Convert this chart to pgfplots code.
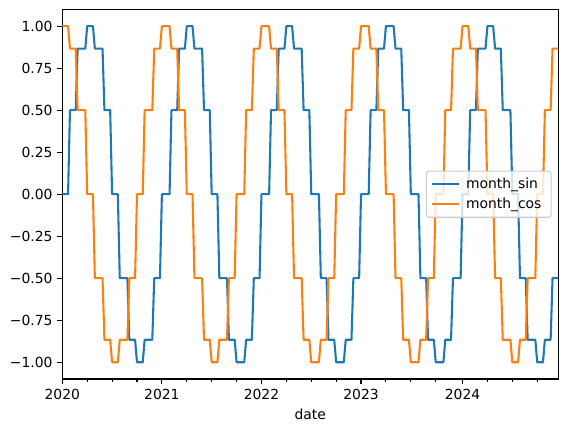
\documentclass[border=0pt]{standalone}
\usepackage{fontspec}
\setmainfont{DejaVu Sans}
\usepackage{pgfplots}
\usepackage{pgfplotstable}
\pgfplotsset{compat=1.18}
\definecolor{c0}{HTML}{1F77B4}
\definecolor{c1}{HTML}{FF7F0E}
\definecolor{legedge}{HTML}{CCCCCC}
% week index k (weekly periods, first week = 2020-01-05), month_sin, month_cos
\pgfplotstableread{
k s c
0 0 1
3 0 1
4 0.5 0.866025
7 0.5 0.866025
8 0.866025 0.5
12 0.866025 0.5
13 1 0
16 1 0
17 0.866025 -0.5
21 0.866025 -0.5
22 0.5 -0.866025
25 0.5 -0.866025
26 0 -1
29 0 -1
30 -0.5 -0.866025
34 -0.5 -0.866025
35 -0.866025 -0.5
38 -0.866025 -0.5
39 -1 0
42 -1 0
43 -0.866025 0.5
47 -0.866025 0.5
48 -0.5 0.866025
51 -0.5 0.866025
52 0 1
56 0 1
57 0.5 0.866025
60 0.5 0.866025
61 0.866025 0.5
64 0.866025 0.5
65 1 0
68 1 0
69 0.866025 -0.5
73 0.866025 -0.5
74 0.5 -0.866025
77 0.5 -0.866025
78 0 -1
81 0 -1
82 -0.5 -0.866025
86 -0.5 -0.866025
87 -0.866025 -0.5
90 -0.866025 -0.5
91 -1 0
95 -1 0
96 -0.866025 0.5
99 -0.866025 0.5
100 -0.5 0.866025
103 -0.5 0.866025
104 0 1
108 0 1
109 0.5 0.866025
112 0.5 0.866025
113 0.866025 0.5
116 0.866025 0.5
117 1 0
120 1 0
121 0.866025 -0.5
125 0.866025 -0.5
126 0.5 -0.866025
129 0.5 -0.866025
130 0 -1
134 0 -1
135 -0.5 -0.866025
138 -0.5 -0.866025
139 -0.866025 -0.5
142 -0.866025 -0.5
143 -1 0
147 -1 0
148 -0.866025 0.5
151 -0.866025 0.5
152 -0.5 0.866025
155 -0.5 0.866025
156 0 1
160 0 1
161 0.5 0.866025
164 0.5 0.866025
165 0.866025 0.5
168 0.866025 0.5
169 1 0
173 1 0
174 0.866025 -0.5
177 0.866025 -0.5
178 0.5 -0.866025
181 0.5 -0.866025
182 0 -1
186 0 -1
187 -0.5 -0.866025
190 -0.5 -0.866025
191 -0.866025 -0.5
194 -0.866025 -0.5
195 -1 0
199 -1 0
200 -0.866025 0.5
203 -0.866025 0.5
204 -0.5 0.866025
208 -0.5 0.866025
209 0 1
212 0 1
213 0.5 0.866025
216 0.5 0.866025
217 0.866025 0.5
221 0.866025 0.5
222 1 0
225 1 0
226 0.866025 -0.5
229 0.866025 -0.5
230 0.5 -0.866025
234 0.5 -0.866025
235 0 -1
238 0 -1
239 -0.5 -0.866025
242 -0.5 -0.866025
243 -0.866025 -0.5
247 -0.866025 -0.5
248 -1 0
251 -1 0
252 -0.866025 0.5
255 -0.866025 0.5
256 -0.5 0.866025
259 -0.5 0.866025
}\datatable
\begin{document}
\begin{tikzpicture}
\path[use as bounding box] (-44.86pt,-38.16pt) rectangle (364.1pt,272.9pt);
\begin{axis}[
  at={(0pt,0pt)}, anchor=south west,
  scale only axis, width=357.1pt, height=266.2pt,
  xmin=0, xmax=259, ymin=-1.1, ymax=1.1,
  font=\fontsize{10pt}{12pt}\selectfont,
  axis line style={line width=0.8pt},
  tick style={line width=0.8pt, black},
  major tick length=3.5pt, minor tick length=2pt,
  tick align=outside,
  xtick pos=bottom, ytick pos=left,
  xtick={0,52,104,156,209},
  xticklabels={2020,2021,2022,2023,2024},
  minor xtick={13,26,39,65,78,91,117,130,143,169,182,195,222,235,248},
  ytick={-1,-0.75,-0.5,-0.25,0,0.25,0.5,0.75,1},
  yticklabels={−1.00,−0.75,−0.50,−0.25,0.00,0.25,0.50,0.75,1.00},
  xlabel={date},
  legend cell align=left,
  legend style={at={(axis description cs:1,0.5)}, anchor=east, xshift=-4.75pt,
    draw=legedge, fill=white, fill opacity=0.8, text opacity=1, draw opacity=1,
    rounded corners=2pt, line width=0.8pt, row sep=1pt, inner sep=3pt,
    nodes={inner xsep=4pt, inner ysep=2pt}},
  legend image code/.code={\draw[#1] (0pt,0pt) -- (20pt,0pt);},
]
\addplot[c0, line width=1.5pt, line join=round] table[x=k, y=s] {\datatable};
\addlegendentry{month\_sin}
\addplot[c1, line width=1.5pt, line join=round] table[x=k, y=c] {\datatable};
\addlegendentry{month\_cos}
\end{axis}
\end{tikzpicture}
\end{document}
